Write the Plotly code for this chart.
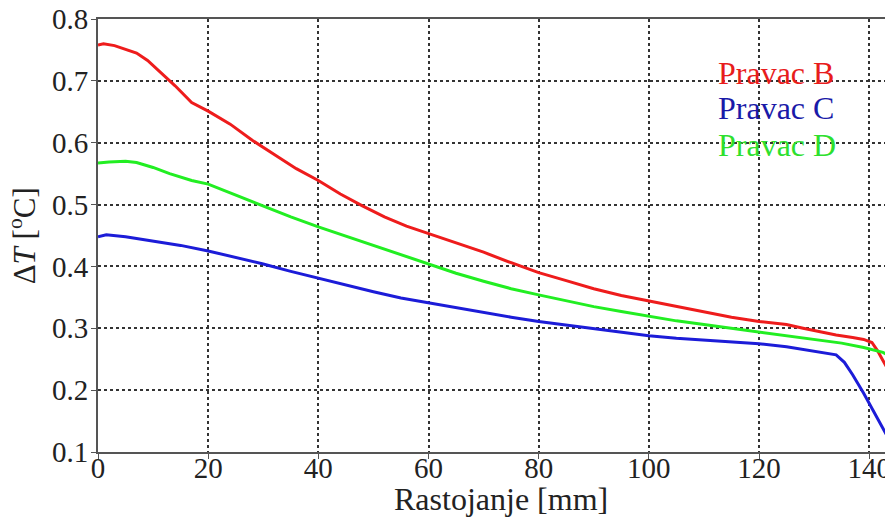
import plotly.graph_objects as go

# Pravac B (red)
x_b = [0, 1, 3, 5, 7, 9, 11, 14, 17, 20, 24, 28, 32, 36, 40, 44, 48, 52, 56, 60, 65, 70, 75, 80,
       85, 90, 95, 100, 105, 110, 115, 120, 125, 128, 131, 134, 137, 139, 140.5, 141.5, 142.5, 143.5]
y_b = [0.758, 0.760, 0.757, 0.751, 0.745, 0.733, 0.717, 0.692, 0.665, 0.651, 0.630, 0.604, 0.581,
       0.558, 0.539, 0.517, 0.498, 0.480, 0.465, 0.453, 0.438, 0.423, 0.406, 0.390, 0.377, 0.364,
       0.353, 0.344, 0.335, 0.327, 0.318, 0.311, 0.306, 0.300, 0.294, 0.289, 0.285, 0.282, 0.277,
       0.264, 0.248, 0.232]

# Pravac C (blue)
x_c = [0, 1.5, 5, 10, 15, 20, 25, 30, 35, 40, 45, 50, 55, 60, 65, 70, 75, 80, 85, 90, 95, 100,
       105, 110, 115, 120, 125, 129, 132, 134, 135.5, 137, 139, 141, 143.5]
y_c = [0.448, 0.451, 0.448, 0.441, 0.434, 0.425, 0.415, 0.404, 0.392, 0.381, 0.369, 0.359, 0.349,
       0.341, 0.333, 0.326, 0.318, 0.311, 0.305, 0.299, 0.293, 0.288, 0.284, 0.281, 0.278, 0.275,
       0.270, 0.264, 0.260, 0.257, 0.245, 0.225, 0.195, 0.163, 0.122]

# Pravac D (green)
x_d = [0, 2, 5, 7, 10, 13, 17, 20, 24, 29, 35, 40, 45, 50, 55, 60, 65, 70, 75, 80, 85, 90, 95,
       100, 105, 110, 115, 120, 125, 130, 135, 139, 141, 142.5, 143.5]
y_d = [0.567, 0.569, 0.570, 0.568, 0.560, 0.550, 0.539, 0.533, 0.519, 0.501, 0.480, 0.464, 0.449,
       0.434, 0.418, 0.403, 0.389, 0.376, 0.364, 0.354, 0.344, 0.335, 0.327, 0.319, 0.312, 0.306,
       0.300, 0.295, 0.289, 0.283, 0.276, 0.269, 0.264, 0.261, 0.256]

series_names = ["Pravac B", "Pravac C", "Pravac D"]
line_colors = ["#ee1c1c", "#1c1cd8", "#22ee22"]
label_colors = ["#e81c1c", "#1a1aa8", "#2ee02e"]

x_ticks = [0, 20, 40, 60, 80, 100, 120, 140]
y_ticks = [0.1, 0.2, 0.3, 0.4, 0.5, 0.6, 0.7, 0.8]

x_title = "Rastojanje [mm]"
y_title = "Δ<i>T</i> [<sup>o</sup>C]"

FONT = "Liberation Serif"

fig = go.Figure()
for xs, ys, name, col in zip([x_b, x_c, x_d], [y_b, y_c, y_d], series_names, line_colors):
    fig.add_trace(go.Scatter(x=xs, y=ys, mode="lines", name=name,
                             line=dict(color=col, width=3), showlegend=False))

label_y = [0.875, 0.794, 0.709]
for name, col, yy in zip(series_names, label_colors, label_y):
    fig.add_annotation(text=name, xref="paper", yref="paper", x=0.781, y=yy,
                       xanchor="left", yanchor="middle", showarrow=False,
                       font=dict(family=FONT, size=32, color=col))

# axis titles as annotations for precise placement
fig.add_annotation(text=x_title, xref="paper", yref="paper", x=0.51, y=-0.108,
                   xanchor="center", yanchor="middle", showarrow=False,
                   font=dict(family=FONT, size=32, color="#222"))
fig.add_annotation(text=y_title, xref="paper", yref="paper", x=-0.095, y=0.50,
                   xanchor="center", yanchor="middle", showarrow=False, textangle=-90,
                   font=dict(family=FONT, size=31, color="#222"))

# page body has an 8px margin, so figure is sized/margined to land the plot area at 98..889 x 19..452
fig.update_layout(
    width=885, height=514,
    margin=dict(l=90, r=4, t=11, b=70),
    paper_bgcolor="white", plot_bgcolor="white",
    font=dict(family=FONT, size=29, color="#222"),
)
fig.update_xaxes(
    range=[0, 143.6], tickvals=x_ticks, ticks="outside", ticklen=5, tickcolor="#555",
    showline=True, linecolor="#555", linewidth=2, mirror=True,
    showgrid=True, gridcolor="#333", griddash="dot", gridwidth=1.5,
    zeroline=False, tickfont=dict(family=FONT, size=29, color="#222"), automargin=False,
    ticklabeloverflow="allow", ticklabelstandoff=-16,
)
fig.update_yaxes(
    range=[0.1, 0.8], tickvals=y_ticks, tickformat=".1f", ticks="outside", ticklen=5, tickcolor="#555",
    showline=True, linecolor="#555", linewidth=2, mirror=True,
    showgrid=True, gridcolor="#333", griddash="dot", gridwidth=1.5,
    zeroline=False, tickfont=dict(family=FONT, size=29, color="#222"), automargin=False,
    ticklabeloverflow="allow", ticklabelstandoff=-3,
)

fig.write_html("out.html")
